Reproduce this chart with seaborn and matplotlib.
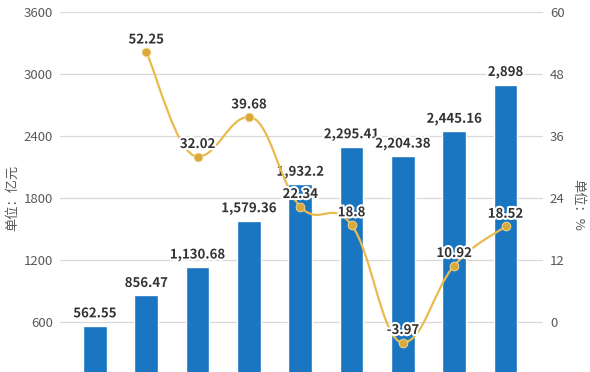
import numpy as np
import pandas as pd
import matplotlib
matplotlib.use("Agg")
import matplotlib.pyplot as plt
import matplotlib.patheffects as pe
from matplotlib.path import Path
from matplotlib.patches import PathPatch
import seaborn as sns

# data
years = ["2010", "2011", "2012", "2013", "2014", "2015", "2016", "2017", "2018"]
scale = [562.55, 856.47, 1130.68, 1579.36, 1932.2, 2295.41, 2204.38, 2445.16, 2898]
growth = [np.nan, 52.25, 32.02, 39.68, 22.34, 18.8, -3.97, 10.92, 18.52]
left_ticks = [600, 1200, 1800, 2400, 3000, 3600]
right_ticks = [0, 12, 24, 36, 48, 60]

BAR = "#1b76c2"
LINE = "#e8bb4c"
DOT = "#d9aa3a"
TXT = "#595959"

sns.set_theme(style="white")
plt.rcParams["font.family"] = ["Noto Sans CJK SC", "DejaVu Sans"]

df = pd.DataFrame({"year": years, "scale": scale, "growth": growth})

fig = plt.figure(figsize=(5.9, 3.72), dpi=100)
ax = fig.add_axes([60 / 590, 0, 483 / 590, 1 - 12 / 372])

sns.barplot(data=df, x="year", y="scale", color=BAR, saturation=1,
            width=0.46, ax=ax, zorder=2)
ax.set_ylim(600 - 50 / 62 * 600, 3600)
ax.set_xlim(-0.68, 8.73)
ax.set_yticks(left_ticks)
ax.yaxis.grid(True, color="#d9d9d9", lw=0.9, zorder=0)
ax.set_axisbelow(True)
ax.tick_params(axis="y", length=0, pad=5, labelsize=9.5, labelcolor=TXT)
ax.set_xticks([])
ax.set_xlabel("")
ax.set_ylabel("")
for s in ax.spines.values():
    s.set_visible(False)

halo = [pe.withStroke(linewidth=3, foreground="white")]
for i, v in enumerate(scale):
    lab = f"{v:,.2f}".rstrip("0").rstrip(".")
    ax.annotate(lab, (i, v), xytext=(0, 4), textcoords="offset points",
                ha="center", va="bottom", fontsize=9.5, fontweight="bold",
                color="#333333", path_effects=halo, zorder=5)

ax2 = ax.twinx()
ax2.set_ylim(-50 / 62 * 12, 60)
ax2.set_yticks(right_ticks)
ax2.tick_params(axis="y", length=0, pad=5, labelsize=9.5, labelcolor=TXT)
for s in ax2.spines.values():
    s.set_visible(False)
ax2.grid(False)

# smooth curve through the growth points; flat tangent at local peaks/troughs
gx = [i for i, g in enumerate(growth) if not np.isnan(g)]
gy = [g for g in growth if not np.isnan(g)]
P = np.column_stack([gx, gy]).astype(float)
n = len(P)
T = np.zeros_like(P)
for i in range(n):
    a = P[max(i - 1, 0)]
    b = P[min(i + 1, n - 1)]
    T[i] = b - a
    if 0 < i < n - 1 and (P[i - 1, 1] - P[i, 1]) * (P[i + 1, 1] - P[i, 1]) > 0:
        T[i, 1] = 0.0
k = 0.2
verts, codes = [P[0]], [Path.MOVETO]
for i in range(n - 1):
    verts += [P[i] + T[i] * k, P[i + 1] - T[i + 1] * k, P[i + 1]]
    codes += [Path.CURVE4] * 3
ax2.add_patch(PathPatch(Path(verts, codes), fill=False, edgecolor=LINE,
                        lw=1.6, zorder=3))
sns.scatterplot(x=gx, y=gy, color=DOT, s=40, edgecolor="#f3dca0",
                linewidth=0.6, ax=ax2, zorder=4)

for x, g in zip(gx, gy):
    ax2.annotate(f"{g:g}", (x, g), xytext=(0, 4), textcoords="offset points",
                 ha="center", va="bottom", fontsize=9.5, fontweight="bold",
                 color="#333333", path_effects=halo, zorder=6)

fig.text(13 / 590, 1 - 198 / 372, "单位：亿元", rotation=90, ha="center",
         va="center", fontsize=9.5, color=TXT)
fig.text(578 / 590, 1 - 205 / 372, "单位：%", rotation=270, ha="center",
         va="center", fontsize=9.5, color=TXT)

fig.savefig("out.png", dpi=100)
